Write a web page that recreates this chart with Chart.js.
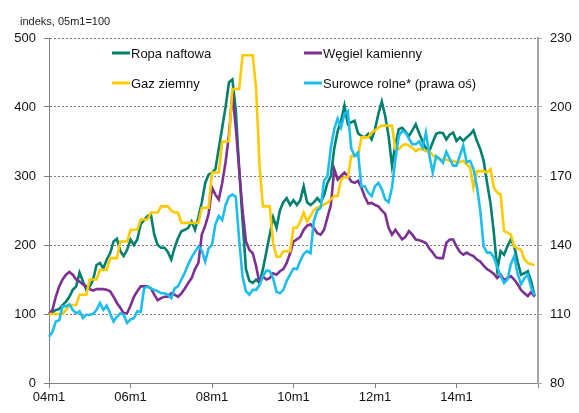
<!DOCTYPE html>
<html>
<head>
<meta charset="utf-8">
<script src="https://cdn.jsdelivr.net/npm/chart.js@4.4.1/dist/chart.umd.min.js"></script>
<style>
  html, body { margin: 0; padding: 0; background: #fff; }
  #wrap { position: relative; width: 579px; height: 413px; }
</style>
</head>
<body>
<div id="wrap"><canvas id="chart" width="579" height="413"></canvas></div>
<script>
// monthly labels 04m1 .. 16m1 (the last one only closes the axis)
const months = [];
for (let y = 4; y <= 15; y++) {
  for (let m = 1; m <= 12; m++) months.push(String(y).padStart(2, '0') + 'm' + m);
}
months.push('16m1');

// index, 05m1=100 (left axis)
const ropaNaftowa = [
  100, 102, 106, 107, 113, 118, 125, 135, 140, 160, 147, 135,
  140, 150, 171, 174, 166, 179, 188, 205, 209, 191, 184, 193,
  208, 200, 208, 230, 236, 242, 244, 215, 200, 196, 196, 190,
  179, 196, 210, 220, 222, 225, 234, 222, 240, 262, 290, 302,
  305, 310, 340, 370, 400, 436, 440, 395, 310, 235, 165, 148,
  145, 150, 145, 165, 190, 215, 240, 225, 250, 262, 268, 258,
  265, 258, 265, 285, 262, 258, 262, 268, 262, 272, 290, 300,
  340, 365, 380, 402, 375, 378, 380, 362, 358, 356, 361, 353,
  368, 390, 408, 387, 358, 315, 345, 368, 370, 364, 358, 366,
  375, 362, 350, 340, 336, 349, 361, 363, 362, 353, 360, 363,
  351, 356, 351, 356, 360, 366, 351, 339, 322, 290, 261, 218,
  164, 191, 186, 198, 208, 198, 176, 157, 159, 162, 147, 126
];

const wegielKamienny = [
  100, 106, 125, 140, 150, 157, 161, 157, 150, 147, 143, 140,
  136, 134, 136, 136, 136, 135, 133, 125, 116, 109, 101, 101,
  112, 125, 133, 140, 140, 140, 137, 128, 120, 123, 125, 125,
  130, 128, 125, 130, 137, 145, 152, 165, 174, 215, 228, 245,
  283, 273, 266, 290, 320, 360, 420, 370, 310, 250, 205, 193,
  188, 169, 145, 154, 150, 152, 159, 157, 162, 165, 174, 188,
  205, 208, 212, 222, 228, 230, 225, 217, 215, 222, 240, 258,
  310, 295, 300, 305, 300, 292, 290, 293, 283, 270, 260, 261,
  258, 256, 250, 245, 225, 215, 222, 215, 208, 212, 220, 215,
  208, 207, 205, 203, 195, 189, 182, 181, 181, 203, 208, 208,
  198, 190, 186, 189, 186, 184, 179, 176, 170, 165, 162, 158,
  152, 157, 149, 152, 155, 150, 143, 135, 130, 126, 132, 125
];

const gazZiemny = [
  100, 100, 100, 100, 100, 106, 113, 113, 113, 128, 128, 128,
  150, 150, 150, 164, 164, 164, 181, 181, 181, 205, 205, 205,
  222, 222, 222, 237, 237, 237, 247, 247, 247, 256, 256, 256,
  250, 247, 247, 232, 232, 232, 232, 232, 232, 254, 254, 254,
  305, 305, 305, 350, 350, 350, 426, 426, 426, 475, 475, 475,
  475, 426, 315, 256, 256, 256, 203, 183, 183, 191, 191, 191,
  225, 225, 234, 247, 234, 242, 251, 254, 256, 259, 261, 266,
  271, 271, 295, 298, 298, 329, 329, 329, 356, 356, 356, 363,
  366, 370, 373, 373, 373, 373, 339, 339, 344, 346, 344, 341,
  336, 339, 339, 336, 336, 330, 327, 324, 324, 324, 322, 322,
  320, 320, 322, 317, 312, 283, 307, 307, 307, 305, 310, 283,
  276, 273, 220, 218, 215, 198, 195, 193, 179, 174, 172, 171
];

// right axis (prawa oś)
const surowceRolne = [
  100.1, 102.2, 106.7, 107.3, 113.3, 113.3, 114.2, 111.8, 110.3, 111.2, 108.2, 109.7,
  109.7, 110.0, 111.8, 114.8, 111.8, 113.6, 110.3, 106.7, 108.8, 110.3, 109.7, 106.1,
  107.6, 108.2, 111.2, 110.9, 121.1, 122.0, 121.1, 120.5, 119.9, 119.0, 119.0, 118.4,
  116.9, 121.1, 122.0, 125.0, 128.0, 131.6, 134.6, 137.0, 139.4, 137.6, 132.8, 138.5,
  140.0, 149.0, 152.6, 150.8, 157.4, 161.0, 161.9, 161.0, 142.4, 126.2, 119.9, 118.4,
  120.5, 120.5, 122.6, 126.5, 128.9, 128.6, 125.6, 119.6, 119.0, 120.5, 124.4, 127.1,
  129.8, 129.5, 133.1, 136.1, 137.3, 136.4, 150.5, 155.0, 156.2, 167.9, 170.0, 182.3,
  190.4, 194.9, 191.0, 197.0, 198.2, 182.0, 178.7, 180.2, 165.5, 165.5, 162.8, 161.3,
  165.5, 167.0, 164.3, 159.8, 158.6, 164.9, 177.2, 187.4, 189.5, 188.9, 186.2, 183.8,
  183.8, 185.0, 182.3, 188.9, 179.0, 171.5, 178.7, 177.5, 175.7, 180.5, 177.5, 174.5,
  174.5, 179.0, 183.2, 176.0, 176.6, 173.0, 165.5, 155.0, 139.4, 136.7, 136.7, 134.6,
  130.4, 126.5, 123.5, 125.0, 131.6, 135.2, 127.4, 122.9, 125.6, 127.1, 121.4, 118.1
];

const seriesNames = ['Ropa naftowa', 'Węgiel kamienny', 'Gaz ziemny', 'Surowce rolne* (prawa oś)'];
const seriesColors = ['#00806E', '#7D3192', '#FFCA00', '#1DBDEE'];

const FONT = "'Liberation Sans', Arial, sans-serif";

// legend + axis caption drawn straight onto the canvas
const legendInside = {
  id: 'legendInside',
  afterDraw(chart) {
    const ctx = chart.ctx;
    ctx.save();
    ctx.font = '11px ' + FONT;
    ctx.fillStyle = '#222';
    ctx.textBaseline = 'middle';
    ctx.fillText('indeks, 05m1=100', 20, 22);

    const slots = [[112, 53], [304, 53], [112, 83], [304, 83]];
    ctx.font = '13px ' + FONT;
    chart.data.datasets.forEach((ds, i) => {
      const [x, y] = slots[i];
      ctx.strokeStyle = ds.borderColor;
      ctx.lineWidth = 3;
      ctx.beginPath();
      ctx.moveTo(x, y);
      ctx.lineTo(x + 18, y);
      ctx.stroke();
      ctx.fillStyle = '#111';
      ctx.fillText(ds.label, x + 19, y + 1);
    });
    ctx.restore();
  }
};

const makeSet = (i, data, axis, order) => ({
  label: seriesNames[i],
  data: data,
  yAxisID: axis,
  borderColor: seriesColors[i],
  backgroundColor: seriesColors[i],
  borderWidth: 2.6,
  pointRadius: 0,
  tension: 0,
  order: order,
});

new Chart(document.getElementById('chart'), {
  type: 'line',
  data: {
    labels: months,
    datasets: [
      makeSet(0, ropaNaftowa, 'y', 4),
      makeSet(1, wegielKamienny, 'y', 3),
      makeSet(2, gazZiemny, 'y', 2),
      makeSet(3, surowceRolne, 'y1', 1),
    ],
  },
  options: {
    responsive: false,
    animation: false,
    layout: { padding: { top: 38, left: 0, right: 0, bottom: 0 } },
    plugins: {
      legend: { display: false },
      tooltip: { enabled: false },
    },
    scales: {
      x: {
        type: 'category',
        offset: false,
        afterFit: s => { s.height = 30; },
        ticks: {
          autoSkip: false,
          maxRotation: 0,
          padding: 2,
          color: '#111',
          font: { family: FONT, size: 13 },
          callback: (v, i) => (i % 24 === 0 && i < 144 ? months[i] : ''),
        },
        grid: {
          drawOnChartArea: false,
          tickLength: 5,
          color: c => (c.index % 24 === 0 ? '#808080' : 'rgba(0,0,0,0)'),
        },
        border: { color: '#808080', width: 1 },
      },
      y: {
        position: 'left',
        min: 0,
        max: 500,
        afterFit: s => { s.width = 49; },
        ticks: {
          stepSize: 100,
          padding: 8,
          color: '#111',
          font: { family: FONT, size: 13 },
        },
        grid: {
          color: c => (c.tick && c.tick.value === 0 ? 'rgba(0,0,0,0)' : '#7a7a7a'),
          lineWidth: 1,
          borderDash: [2, 2],
          tickLength: 5,
          tickColor: '#808080',
          tickBorderDash: [],
        },
        border: { color: '#808080', width: 1, dash: [2, 2] },
      },
      y1: {
        position: 'right',
        min: 80,
        max: 230,
        afterFit: s => { s.width = 41; },
        ticks: {
          stepSize: 30,
          padding: 8,
          color: '#111',
          font: { family: FONT, size: 13 },
        },
        grid: {
          drawOnChartArea: false,
          tickLength: 4,
          color: '#a6a6a6',
        },
        border: { color: '#a6a6a6', width: 2 },
      },
    },
  },
  plugins: [legendInside],
});
</script>
</body>
</html>
